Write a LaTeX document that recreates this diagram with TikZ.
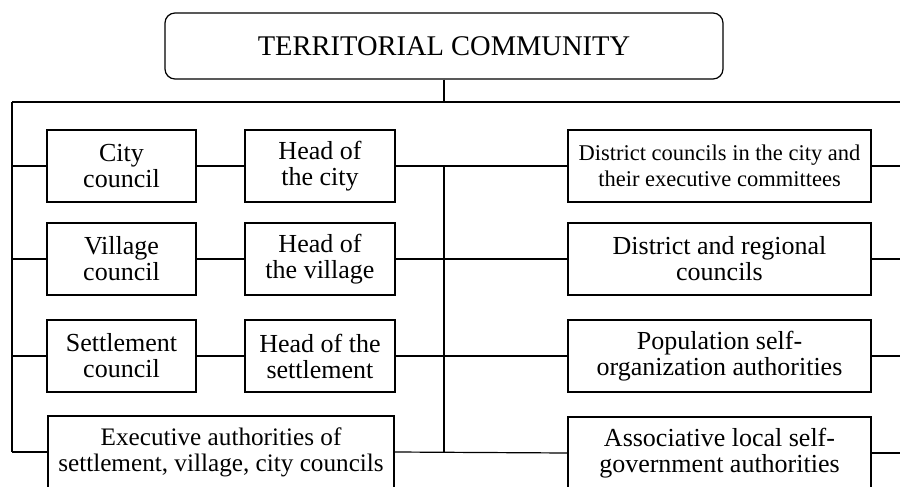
\documentclass[tikz,border=0pt]{standalone}
\usepackage{fontspec}
\setmainfont{Liberation Serif}
\begin{document}
\begin{tikzpicture}[x=1pt,y=-1pt,
  box/.style={draw, line width=1.2pt, align=center, inner sep=0pt,
    font=\fontsize{26}{26}\selectfont},
  small/.style={font=\fontsize{22.5}{26}\selectfont},
  lbox/.style={box, minimum width=149pt, minimum height=72pt},
  hbox/.style={box, minimum width=150pt, minimum height=72pt},
  rbox/.style={box, minimum width=303pt, minimum height=72pt},
  conn/.style={line width=1.2pt}]
\clip (0,0) rectangle (900,487);
\fill[white] (0,0) rectangle (900,487);
\node[box, rounded corners=10pt, minimum width=558pt, minimum height=66pt,
  font=\fontsize{28.5}{28}\selectfont] (tc) at (444,46) {TERRITORIAL COMMUNITY};
% left column
\node[lbox] (cc) at (121.5,166) {City\\council};
\node[lbox] (vc) at (121.5,259) {Village\\council};
\node[lbox] (sc) at (121.5,356) {Settlement\\council};
\node[box, minimum width=346pt, minimum height=72pt,
  font=\fontsize{25.2}{26}\selectfont] (ex) at (221,452) {Executive authorities of\\settlement, village, city councils};
% heads
\node[hbox] (hc) at (320,166) {Head of\\the city};
\node[hbox] (hv) at (320,259) {Head of\\the village};
\node[hbox] (hs) at (320,356) {Head of the\\settlement};
% right column
\node[rbox, small] (r1) at (719.5,166) {District councils in the city and\\their executive committees};
\node[rbox] (r2) at (719.5,259) {District and regional\\councils};
\node[rbox] (r3) at (719.5,356) {Population self-\\organization authorities};
\node[rbox] (r4) at (719.5,453) {Associative local self-\\government authorities};
% coordinates
\coordinate (tl) at (12,102);
\coordinate (tm) at (444,102);
\coordinate (tr) at (900,102);
\coordinate (bl) at (12,452);
\coordinate (mt) at (444,166);
\coordinate (mb) at (444,452);
\coordinate (er) at (900,0);
% connectors
\draw[conn] (tc) -- (tm);
\draw[conn] (tl) -- (tr);
\draw[conn] (tl) -- (bl);
\draw[conn] (mt) -- (mb);
\draw[conn] (tl |- cc) -- (cc.west);
\draw[conn] (tl |- vc) -- (vc.west);
\draw[conn] (tl |- sc) -- (sc.west);
\draw[conn] (bl) -- (ex.west);
\draw[conn] (cc) -- (hc);
\draw[conn] (vc) -- (hv);
\draw[conn] (sc) -- (hs);
\draw[conn] (hc) -- (r1);
\draw[conn] (hv) -- (r2);
\draw[conn] (hs) -- (r3);
\draw[conn] (ex.east) -- (r4.west);
\draw[conn] (r1.east) -- (r1 -| er);
\draw[conn] (r2.east) -- (r2 -| er);
\draw[conn] (r3.east) -- (r3 -| er);
\draw[conn] (r4.east) -- (r4 -| er);
\end{tikzpicture}
\end{document}
